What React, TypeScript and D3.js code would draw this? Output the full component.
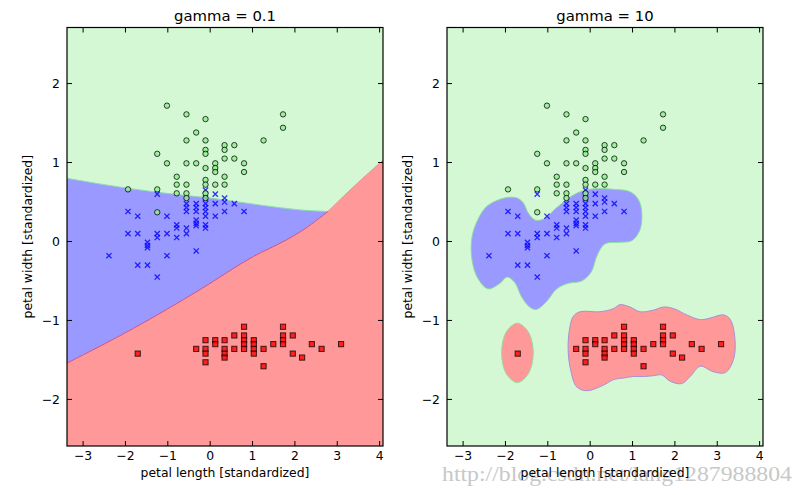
import React from 'react';
import * as d3 from 'd3';

const W = 803;
const H = 495;

const titles = ['gamma = 0.1', 'gamma = 10'];
const xLabel = 'petal length [standardized]';
const yLabel = 'petal width [standardized]';
const xTicks = [-3, -2, -1, 0, 1, 2, 3, 4];
const yTicks = [-2, -1, 0, 1, 2];
const xDomain = [-3.38, 4.08];
const yDomain = [-2.59, 2.71];
const watermark = 'http://blog.csdn.net/lang1287988804';

// class 0 (red squares)
const class0: [number, number][] = [
  [-1.71, -1.42], [-0.33, -1.36], [-0.11, -1.25], [-0.11, -1.36], [-0.11, -1.42], [-0.11, -1.53],
  [0.12, -1.25], [0.12, -1.30], [0.34, -1.25], [0.34, -1.36], [0.34, -1.42], [0.34, -1.47],
  [0.57, -1.19], [0.57, -1.36], [0.80, -1.08], [0.80, -1.19], [0.80, -1.25], [0.80, -1.30],
  [0.80, -1.36], [1.03, -1.25], [1.03, -1.30], [1.03, -1.36], [1.03, -1.42], [1.26, -1.36],
  [1.26, -1.58], [1.49, -1.30], [1.72, -1.08], [1.72, -1.19], [1.72, -1.25], [1.72, -1.30],
  [1.95, -1.19], [1.95, -1.42], [2.17, -1.47], [2.40, -1.30], [2.63, -1.36], [3.09, -1.30],
];

// class 1 (blue crosses)
const class1: [number, number][] = [
  [-1.94, 0.38], [-1.71, 0.32], [-1.25, 0.60], [-1.02, 0.32], [-1.94, 0.10], [-1.71, 0.10],
  [-1.48, -0.01], [-1.48, -0.05], [-1.48, -0.08], [-1.25, 0.10], [-1.25, 0.05], [-1.02, 0.10],
  [-0.79, 0.21], [-0.79, 0.17], [-0.79, 0.05], [-0.56, 0.17], [-0.56, 0.10], [-0.56, 0.48],
  [-0.56, 0.43], [-0.56, 0.38], [-0.33, 0.48], [-0.33, 0.43], [-0.33, 0.38], [-0.33, 0.27],
  [-0.33, 0.23], [-0.33, 0.20], [-0.11, 0.55], [-0.11, 0.48], [-0.11, 0.43], [-0.11, 0.38],
  [-0.11, 0.32], [-0.11, 0.21], [-0.11, 0.17], [-0.11, 0.65], [0.12, 0.60], [0.12, 0.48],
  [0.12, 0.32], [0.34, 0.55], [0.34, 0.50], [0.34, 0.38], [0.57, 0.48], [0.80, 0.38],
  [-2.39, -0.18], [-1.71, -0.30], [-1.48, -0.30], [-1.25, -0.45], [-1.02, -0.18], [-0.33, -0.12],
];

// class 2 (green circles)
const class2: [number, number][] = [
  [-1.02, 1.72], [-0.56, 1.61], [-0.11, 1.55], [-0.33, 1.38], [-0.56, 1.28], [-0.11, 1.28],
  [-1.25, 1.11], [-1.02, 0.99], [-0.56, 0.99], [-0.33, 0.99], [-0.11, 1.16], [-0.11, 1.11],
  [-0.11, 0.93], [-0.11, 0.78], [-0.11, 0.72], [-0.11, 0.61], [-0.11, 0.55], [0.12, 0.99],
  [0.12, 0.93], [0.12, 0.88], [0.12, 0.72], [0.34, 1.22], [0.34, 1.16], [0.34, 1.05],
  [0.34, 0.82], [0.34, 0.72], [0.57, 1.22], [0.57, 1.05], [0.80, 0.99], [0.80, 0.88],
  [1.26, 1.28], [1.72, 1.61], [1.72, 1.44], [-1.94, 0.66], [-1.25, 0.66], [-1.25, 0.37],
  [-0.79, 0.82], [-0.79, 0.72], [-0.79, 0.61], [-0.56, 0.72], [-0.56, 0.61], [-0.56, 0.55],
];

// gamma = 0.1 boundaries
const leftGreenBlue: [number, number][] = [
  [-3.38, 0.80], [-2.5, 0.72], [-1.2, 0.62], [0, 0.55], [1.2, 0.46], [2.12, 0.40], [2.78, 0.38],
];
const leftRed: [number, number][] = [
  [-3.38, -1.54], [-1.81, -1.10], [-0.24, -0.61], [1.02, -0.19], [1.80, 0.02], [2.12, 0.12],
  [2.78, 0.38], [3.26, 0.63], [4.08, 1.03],
];

// gamma = 10 regions
const rightBlue: [number, number][] = [
  [-2.80, 0.02], [-2.70, 0.22], [-2.47, 0.43], [-2.20, 0.52], [-1.92, 0.56], [-1.72, 0.55],
  [-1.58, 0.49], [-1.45, 0.35], [-1.29, 0.27], [-1.07, 0.29], [-0.83, 0.41], [-0.56, 0.53],
  [-0.32, 0.61], [-0.12, 0.65], [0.20, 0.67], [0.55, 0.66], [0.94, 0.63], [1.14, 0.53],
  [1.22, 0.36], [1.17, 0.14], [0.98, 0.01], [0.70, -0.01], [0.35, -0.03], [0.17, -0.17],
  [0.02, -0.39], [-0.20, -0.50], [-0.52, -0.53], [-0.79, -0.60], [-1.03, -0.76], [-1.27, -0.86],
  [-1.43, -0.83], [-1.62, -0.70], [-1.78, -0.52], [-1.96, -0.45], [-2.13, -0.53], [-2.41, -0.60],
  [-2.66, -0.46], [-2.79, -0.23],
];
const rightRedSmall: [number, number][] = [
  [-1.72, -1.035], [-1.46, -1.145], [-1.343, -1.41], [-1.46, -1.675], [-1.72, -1.787],
  [-1.98, -1.675], [-2.09, -1.41], [-1.98, -1.145],
];
const rightRedBig: [number, number][] = [
  [-0.40, -0.95], [-0.24, -0.89], [0.23, -0.89], [0.55, -0.85], [0.70, -0.80], [0.94, -0.83],
  [1.18, -0.89], [1.49, -0.87], [1.73, -0.83], [1.97, -0.85], [2.28, -0.93], [2.60, -0.99],
  [2.83, -0.97], [3.15, -0.93], [3.31, -0.99], [3.42, -1.25], [3.38, -1.50], [3.19, -1.66],
  [2.91, -1.65], [2.60, -1.58], [2.36, -1.71], [2.16, -1.80], [1.89, -1.77], [1.69, -1.69],
  [1.49, -1.70], [1.26, -1.71], [1.02, -1.71], [0.78, -1.73], [0.55, -1.75], [0.31, -1.82],
  [-0.08, -1.89], [-0.32, -1.84], [-0.46, -1.63], [-0.52, -1.37], [-0.49, -1.12],
];

const GREEN_BG = '#d3f8d3';
const BLUE_BG = '#9999ff';
const RED_BG = '#ff9999';
const FONT = '"DejaVu Sans", Verdana, sans-serif';

const PW = 316;
const TOP = 27.5;
const BOTTOM = 446;

function Panel({ left, idx }: { left: number; idx: number }) {
  const x = d3.scaleLinear().domain(xDomain).range([left, left + PW]);
  const y = d3.scaleLinear().domain(yDomain).range([BOTTOM, TOP]);
  const clipId = `clip${idx}`;
  const lineOpen = d3.line<[number, number]>().x(d => x(d[0])).y(d => y(d[1])).curve(d3.curveMonotoneX);
  const closed = d3.line<[number, number]>().x(d => x(d[0])).y(d => y(d[1])).curve(d3.curveCatmullRomClosed.alpha(0.5));

  let regions: React.ReactNode = null;
  if (idx === 0) {
    const gb = lineOpen(leftGreenBlue) || '';
    const rd = lineOpen(leftRed) || '';
    const [x0, x1] = xDomain;
    const [y0, y1] = yDomain;
    // blue polygon: green-blue line, then red boundary reversed (part up to junction), then left edge
    const redToJunction = leftRed.filter(p => p[0] <= 2.78);
    const bluePath =
      gb +
      'L' + (lineOpen(redToJunction.slice().reverse()) || '').slice(1) +
      'Z';
    const redPath = rd + `L${x(x1 + 0.5)},${y(1.03)}L${x(x1 + 0.5)},${y(y0 - 0.5)}L${x(x0 - 0.5)},${y(y0 - 0.5)}L${x(x0 - 0.5)},${y(-1.54)}Z`;
    regions = (
      <g>
        <rect x={left} y={TOP} width={PW} height={BOTTOM - TOP} fill={GREEN_BG} />
        <path d={`M${x(x0 - 0.5)},${y(0.80)}L` + gb.slice(1) + 'L' + (lineOpen(redToJunction.slice().reverse()) || '').slice(1) + `L${x(x0 - 0.5)},${y(-1.54)}Z`} fill={BLUE_BG} />
        <path d={redPath} fill={RED_BG} />
        <path d={gb} fill="none" stroke="#8fd9b8" strokeWidth={1} />
        <path d={lineOpen(redToJunction) || ''} fill="none" stroke="#d24f86" strokeWidth={1} />
        <path d={lineOpen(leftRed.filter(p => p[0] >= 2.78)) || ''} fill="none" stroke="#f08f8f" strokeWidth={1} />
      </g>
    );
    void bluePath;
  } else {
    regions = (
      <g>
        <rect x={left} y={TOP} width={PW} height={BOTTOM - TOP} fill={GREEN_BG} />
        <path d={closed(rightBlue) || ''} fill={BLUE_BG} stroke="#8edc9e" strokeWidth={1} />
        <path d={closed(rightRedSmall) || ''} fill={RED_BG} stroke="#9fd6a0" strokeWidth={1} />
        <path d={closed(rightRedBig) || ''} fill={RED_BG} stroke="#a88fd8" strokeWidth={1} />
      </g>
    );
  }

  const cx = left + PW / 2;
  return (
    <g>
      <defs>
        <clipPath id={clipId}>
          <rect x={left} y={TOP} width={PW} height={BOTTOM - TOP} />
        </clipPath>
      </defs>
      <g clipPath={`url(#${clipId})`}>
        {regions}
        {class0.map((p, i) => (
          <rect key={'s' + i} x={x(p[0]) - 2.6} y={y(p[1]) - 2.6} width={5.2} height={5.2}
            fill="red" fillOpacity={0.8} stroke="black" strokeOpacity={0.75} strokeWidth={1} />
        ))}
        {class1.map((p, i) => (
          <path key={'x' + i} transform={`translate(${x(p[0])},${y(p[1])})`}
            d="M-2.6,-2.6L2.6,2.6M-2.6,2.6L2.6,-2.6" stroke="blue" strokeOpacity={0.8} strokeWidth={1.3} fill="none" />
        ))}
        {class2.map((p, i) => (
          <circle key={'c' + i} cx={x(p[0])} cy={y(p[1])} r={2.7}
            fill="#90ee90" fillOpacity={0.8} stroke="black" strokeOpacity={0.75} strokeWidth={1} />
        ))}
      </g>
      <rect x={left} y={TOP} width={PW} height={BOTTOM - TOP} fill="none" stroke="black" strokeWidth={1.2} />
      {xTicks.map(t => (
        <g key={'xt' + t}>
          <line x1={x(t)} x2={x(t)} y1={BOTTOM} y2={BOTTOM - 5} stroke="black" strokeWidth={1} />
          <line x1={x(t)} x2={x(t)} y1={TOP} y2={TOP + 5} stroke="black" strokeWidth={1} />
          <text x={x(t)} y={460} textAnchor="middle" fontSize={12.4} fontFamily={FONT} fill="#000">
            {t < 0 ? '\u2212' + Math.abs(t) : String(t)}
          </text>
        </g>
      ))}
      {yTicks.map(t => (
        <g key={'yt' + t}>
          <line x1={left} x2={left + 5} y1={y(t)} y2={y(t)} stroke="black" strokeWidth={1} />
          <line x1={left + PW} x2={left + PW - 5} y1={y(t)} y2={y(t)} stroke="black" strokeWidth={1} />
          <text x={left - 7} y={y(t) + 4.5} textAnchor="end" fontSize={12.4} fontFamily={FONT} fill="#000">
            {t < 0 ? '\u2212' + Math.abs(t) : String(t)}
          </text>
        </g>
      ))}
      <text x={cx} y={20.7} textAnchor="middle" fontSize={14.85} fontFamily={FONT} fill="#000">{titles[idx]}</text>
      <text x={cx} y={477} textAnchor="middle" fontSize={12.4} fontFamily={FONT} fill="#000">{xLabel}</text>
      <text transform={`translate(${left - 35},${(TOP + BOTTOM) / 2}) rotate(-90)`} textAnchor="middle"
        fontSize={12.4} fontFamily={FONT} fill="#000">{yLabel}</text>
    </g>
  );
}

export default function App() {
  return (
    <svg width={W} height={H} viewBox={`0 0 ${W} ${H}`}
      style={{ position: 'absolute', left: 0, top: 0, background: '#fff' }}>
      <rect x={0} y={0} width={W} height={H} fill="#fff" />
      <text x={442} y={481} fontSize={20} fontFamily='"Liberation Serif", "DejaVu Serif", serif'
        fill="#c8c8c8" textLength={350} lengthAdjust="spacingAndGlyphs">{watermark}</text>
      <Panel left={67} idx={0} />
      <Panel left={447} idx={1} />
    </svg>
  );
}
